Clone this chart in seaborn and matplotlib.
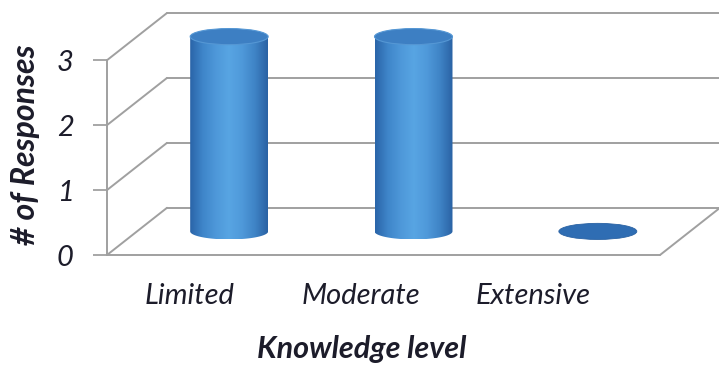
import numpy as np
import matplotlib
matplotlib.use("Agg")
import matplotlib.pyplot as plt
from matplotlib.patches import Ellipse, PathPatch
from matplotlib.path import Path
from matplotlib.colors import LinearSegmentedColormap
import seaborn as sns

# --- data -------------------------------------------------------------
categories = ["Limited", "Moderate", "Extensive"]
responses = [3, 3, 0]
y_ticks = [0, 1, 2, 3]
x_label = "Knowledge level"
y_label = "# of Responses"

# --- style ------------------------------------------------------------
sns.set_theme(style="white")
plt.rcParams["font.family"] = ["Lato", "DejaVu Sans"]

W, H, DPI = 719, 369, 100
fig = plt.figure(figsize=(W / DPI, H / DPI), dpi=DPI)
fig.patch.set_facecolor("white")

# the axes covers the box from the front floor edge to the top of the back wall
ax = fig.add_axes([107 / W, 114 / H, 613 / W, 242 / H])
DX, DY = 0.3255, 0.727          # depth of the 3-D box, in data units
BAR_W = 0.423                   # cylinder diameter, in category units
ELL_H = 0.124                   # half-height of the cylinder caps, in value units
GRID = "#a0a0a0"
TEXT = "#1c1c2a"

# bar geometry from seaborn; the flat bars themselves are hidden
sns.barplot(x=categories, y=responses, width=BAR_W, ax=ax, color="#4a90d4")
bars = list(ax.patches)
for b in bars:
    b.set_visible(False)

n = len(categories)
x_lo, x_hi = -0.5, n - 0.5
top = max(y_ticks)

# --- walls and floor --------------------------------------------------
line_kw = dict(color=GRID, lw=1.4, clip_on=False, zorder=1, solid_capstyle="round")
ax.plot([x_lo, x_lo], [0, top], **line_kw)                      # front edge of left wall
for v in y_ticks:
    ax.plot([x_lo, x_lo + DX], [v, v + DY], **line_kw)          # left wall gridlines
    ax.plot([x_lo + DX, x_hi + DX], [v + DY, v + DY], **line_kw)  # back wall gridlines
ax.plot([x_lo, x_hi], [0, 0], **line_kw)                        # front floor edge
ax.plot([x_hi, x_hi + DX], [0, DY], **line_kw)                  # right floor edge

# --- cylinders --------------------------------------------------------
shade = LinearSegmentedColormap.from_list(
    "cyl", ["#2a64a8", "#3f86ca", "#4e98d9", "#58a5e3", "#4f99da", "#3f84c6", "#2a62a4"])
grad = np.linspace(0, 1, 256)[None, :]

for b in bars:
    h = b.get_height()
    if np.isnan(h):
        h = 0
    w = b.get_width() / 2
    cx = b.get_x() + w + DX / 2
    base = DY / 2
    tip = h + DY / 2
    if h > 0:
        t = np.linspace(np.pi, 2 * np.pi, 60)
        arc = np.column_stack([cx + w * np.cos(t), base + ELL_H * np.sin(t)])
        verts = np.vstack([[cx - w, tip], arc, [cx + w, tip], [cx - w, tip]])
        codes = [Path.MOVETO] + [Path.LINETO] * (len(verts) - 2) + [Path.CLOSEPOLY]
        body = PathPatch(Path(verts, codes), transform=ax.transData)
        im = ax.imshow(grad, extent=[cx - w, cx + w, base - ELL_H, tip],
                       aspect="auto", cmap=shade, interpolation="bilinear", zorder=3)
        im.set_clip_path(body)
        ax.add_patch(Ellipse((cx, tip), 2 * w, 2 * ELL_H, facecolor="#3d7fc3",
                             edgecolor="#5597d4", lw=0.8, zorder=4, clip_on=False))
    else:
        ax.add_patch(Ellipse((cx, base), 2 * w, 2 * ELL_H, facecolor="#2f6db3",
                             edgecolor="#2a62a3", lw=0.6, zorder=4, clip_on=False))

# --- axes -------------------------------------------------------------
ax.set_xlim(x_lo, x_hi + DX)
ax.set_ylim(0, top + DY)
for s in ax.spines.values():
    s.set_visible(False)
ax.grid(False)

ax.set_yticks(y_ticks)
ax.set_yticklabels([str(v) for v in y_ticks], fontsize=21, style="italic", color=TEXT)
ax.tick_params(axis="y", left=True, length=10, width=1.3, color=GRID, pad=14)

label_pos = np.arange(n) * 0.93 - 0.05
ax.set_xticks(label_pos)
ax.set_xticklabels(categories, fontsize=21, style="italic", color=TEXT)
ax.tick_params(axis="x", bottom=False, length=0, pad=20)

ax.set_xlabel(x_label, fontsize=22, fontweight="bold", style="italic", color=TEXT)
ax.xaxis.set_label_coords((362 - 107) / 613, -0.39)
ax.set_ylabel(y_label, fontsize=23, fontweight="bold", style="italic", color=TEXT)
ax.yaxis.set_label_coords(-(107 - 25) / 613, (255 - 145) / 242)
ax.xaxis.label.set_va("center")
ax.yaxis.label.set_va("center")

fig.savefig("out.png", dpi=DPI, facecolor="white")
